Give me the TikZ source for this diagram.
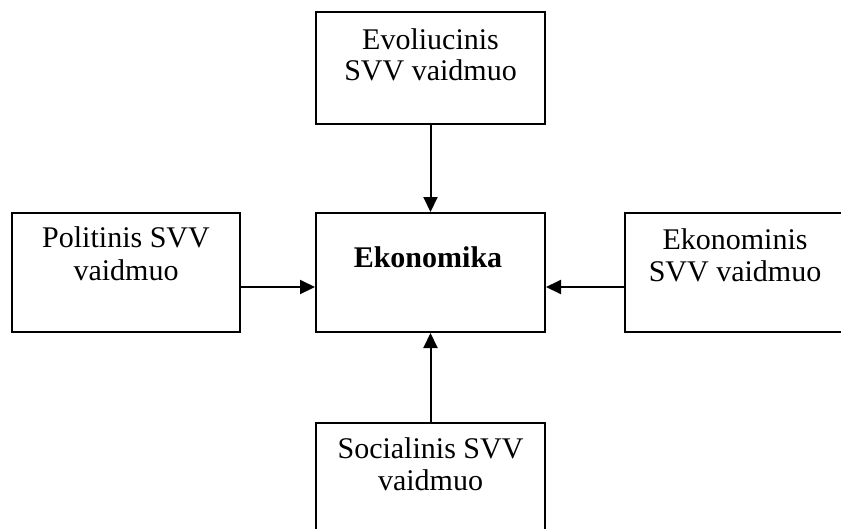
\documentclass[tikz,border=0pt]{standalone}
\usepackage{fontspec}
\setmainfont{Liberation Serif}
\usetikzlibrary{arrows.meta}
\tikzset{
  box/.style={draw=black, line width=2pt, rectangle, inner sep=0pt},
  lbl/.style={anchor=base, inner sep=0pt, font=\fontsize{30pt}{32pt}\selectfont},
  arr/.style={draw=black, line width=2pt, -{Triangle[length=15pt,width=14pt]}}
}
\begin{document}
\begin{tikzpicture}[x=1pt,y=-1pt]
\useasboundingbox[fill=white] (0,0) rectangle (841,528);
% boxes
\node[box, minimum width=229pt, minimum height=112pt] (T) at (430.5,68) {};
\node[box, minimum width=229pt, minimum height=119pt] (C) at (430.5,272.5) {};
\node[box, minimum width=228pt, minimum height=119pt] (L) at (126,272.5) {};
\node[box, minimum width=222pt, minimum height=119pt] (R) at (736,272.5) {};
\node[box, minimum width=229pt, minimum height=124pt] (B) at (430.5,485) {};
% texts
\node[lbl] (t1) at (430.5,49) {Evoliucinis};
\node[lbl] (t2) at (430.5,80) {SVV vaidmuo};
\node[lbl, font=\fontsize{30pt}{32pt}\selectfont\bfseries] (c1) at (428,267) {Ekonomika};
\node[lbl] (l1) at (126,247) {Politinis SVV};
\node[lbl] (l2) at (126,280) {vaidmuo};
\node[lbl] (r1) at (735,249) {Ekonominis};
\node[lbl] (r2) at (735,281) {SVV vaidmuo};
\node[lbl] (b1) at (430.5,458) {Socialinis SVV};
\node[lbl] (b2) at (430.5,490) {vaidmuo};
% connectors
\draw[arr] (T.south) -- (C.north);
\draw[arr] (B.north) -- (C.south);
\draw[arr] ([yshift=-14.5pt]L.east) -- ([yshift=-14.5pt]C.west);
\draw[arr] ([yshift=-14.5pt]R.west) -- ([yshift=-14.5pt]C.east);
\end{tikzpicture}
\end{document}
